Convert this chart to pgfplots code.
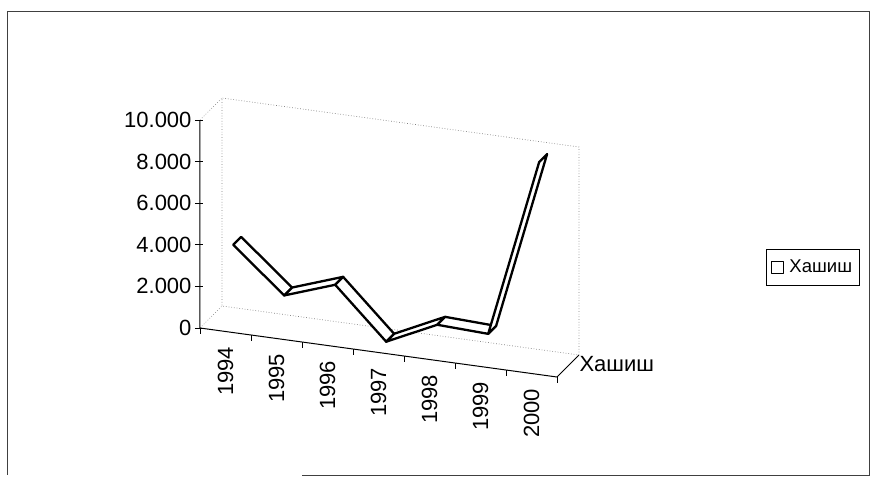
\documentclass[border=0pt]{standalone}
\usepackage{fontspec}
\setmainfont{Liberation Sans}
\usepackage{pgfplots}
\pgfplotsset{compat=1.18}
\usetikzlibrary{calc}
\begin{document}
\begin{tikzpicture}
\begin{axis}[
  x={(51pt,-7pt)}, y={(22pt,22pt)}, z={(0pt,0.0208pt)},
  xmin=-0.5, xmax=6.5, ymin=0, ymax=1, zmin=0, zmax=10000,
  axis line style={draw=none},
  tick style={draw=none},
  clip=false,
  xtick={0,...,6}, xticklabels={1994,1995,1996,1997,1998,1999,2000},
  ytick={0.5}, yticklabels={Хашиш},
  ztick={0,2000,4000,6000,8000,10000},
  scaled z ticks=false,
  /pgf/number format/1000 sep={.},
  /pgf/number format/assume math mode=true,
  ticklabel style={font=\fontsize{22}{26}\selectfont},
  xticklabel style={yshift=-12pt, rotate=90, anchor=east},
  zticklabel style={anchor=east, xshift=-5pt},
  yticklabel style={anchor=west, xshift=8pt, yshift=2pt},
  legend style={at={(axis cs:11.51,0,6976)}, anchor=center, draw=black, line width=0.6pt, font=\fontsize{18.5}{22}\selectfont, inner xsep=5pt, inner ysep=9pt},
]
\draw[gray, dotted, line width=0.7pt] (axis cs:-0.5,0,0) -- (axis cs:-0.5,1,0) -- (axis cs:6.5,1,0) -- (axis cs:6.5,1,10000) -- (axis cs:-0.5,1,10000) -- (axis cs:-0.5,1,0);
\draw[gray, dotted, line width=0.7pt] (axis cs:-0.5,0,10000) -- (axis cs:-0.5,1,10000);
\addplot3[surf, colormap={whitemap}{color=(white) color=(white)}, faceted color=black, line width=2.3pt, line join=round, mesh/rows=2,
  legend image code/.code={\draw[line width=0.9pt, draw=black, fill=white] (0pt,-6pt) rectangle (12pt,6pt); \path (15pt,0pt);}] coordinates {
(0,0.35,3800) (1,0.35,1700) (2,0.35,2550) (3,0.35,150) (4,0.35,1300) (5,0.35,1200) (6,0.35,9800)
(0,0.71,3800) (1,0.71,1700) (2,0.71,2550) (3,0.71,150) (4,0.71,1300) (5,0.71,1200) (6,0.71,9800)
};
\addlegendentry{Хашиш}
\draw[black, line width=1pt] (axis cs:-0.5,0,10000) -- (axis cs:-0.5,0,0) -- (axis cs:6.5,0,0) -- (axis cs:6.5,1,0);
\pgfplotsinvokeforeach{0,2000,4000,6000,8000,10000}{\draw[line width=0.8pt] ([xshift=-5pt]axis cs:-0.5,0,#1) -- ([xshift=3pt]axis cs:-0.5,0,#1);}
\pgfplotsinvokeforeach{-0.5,0.5,1.5,2.5,3.5,4.5,5.5,6.5}{\draw[line width=0.8pt] (axis cs:#1,0,0) -- ([yshift=-6pt]axis cs:#1,0,0);}
\coordinate (O) at (axis cs:-0.5,0,0);
\end{axis}
\pgfresetboundingbox
\path[use as bounding box] ($(O)+(-200pt,328pt)$) rectangle ($(O)+(671pt,-152pt)$);
\draw[line width=0.8pt, black!75] ($(O)+(102pt,-147pt)$) -- ($(O)+(669pt,-147pt)$) -- ($(O)+(669pt,317pt)$) -- ($(O)+(-193pt,317pt)$) -- ($(O)+(-193pt,-147pt)$);
\end{tikzpicture}
\end{document}
